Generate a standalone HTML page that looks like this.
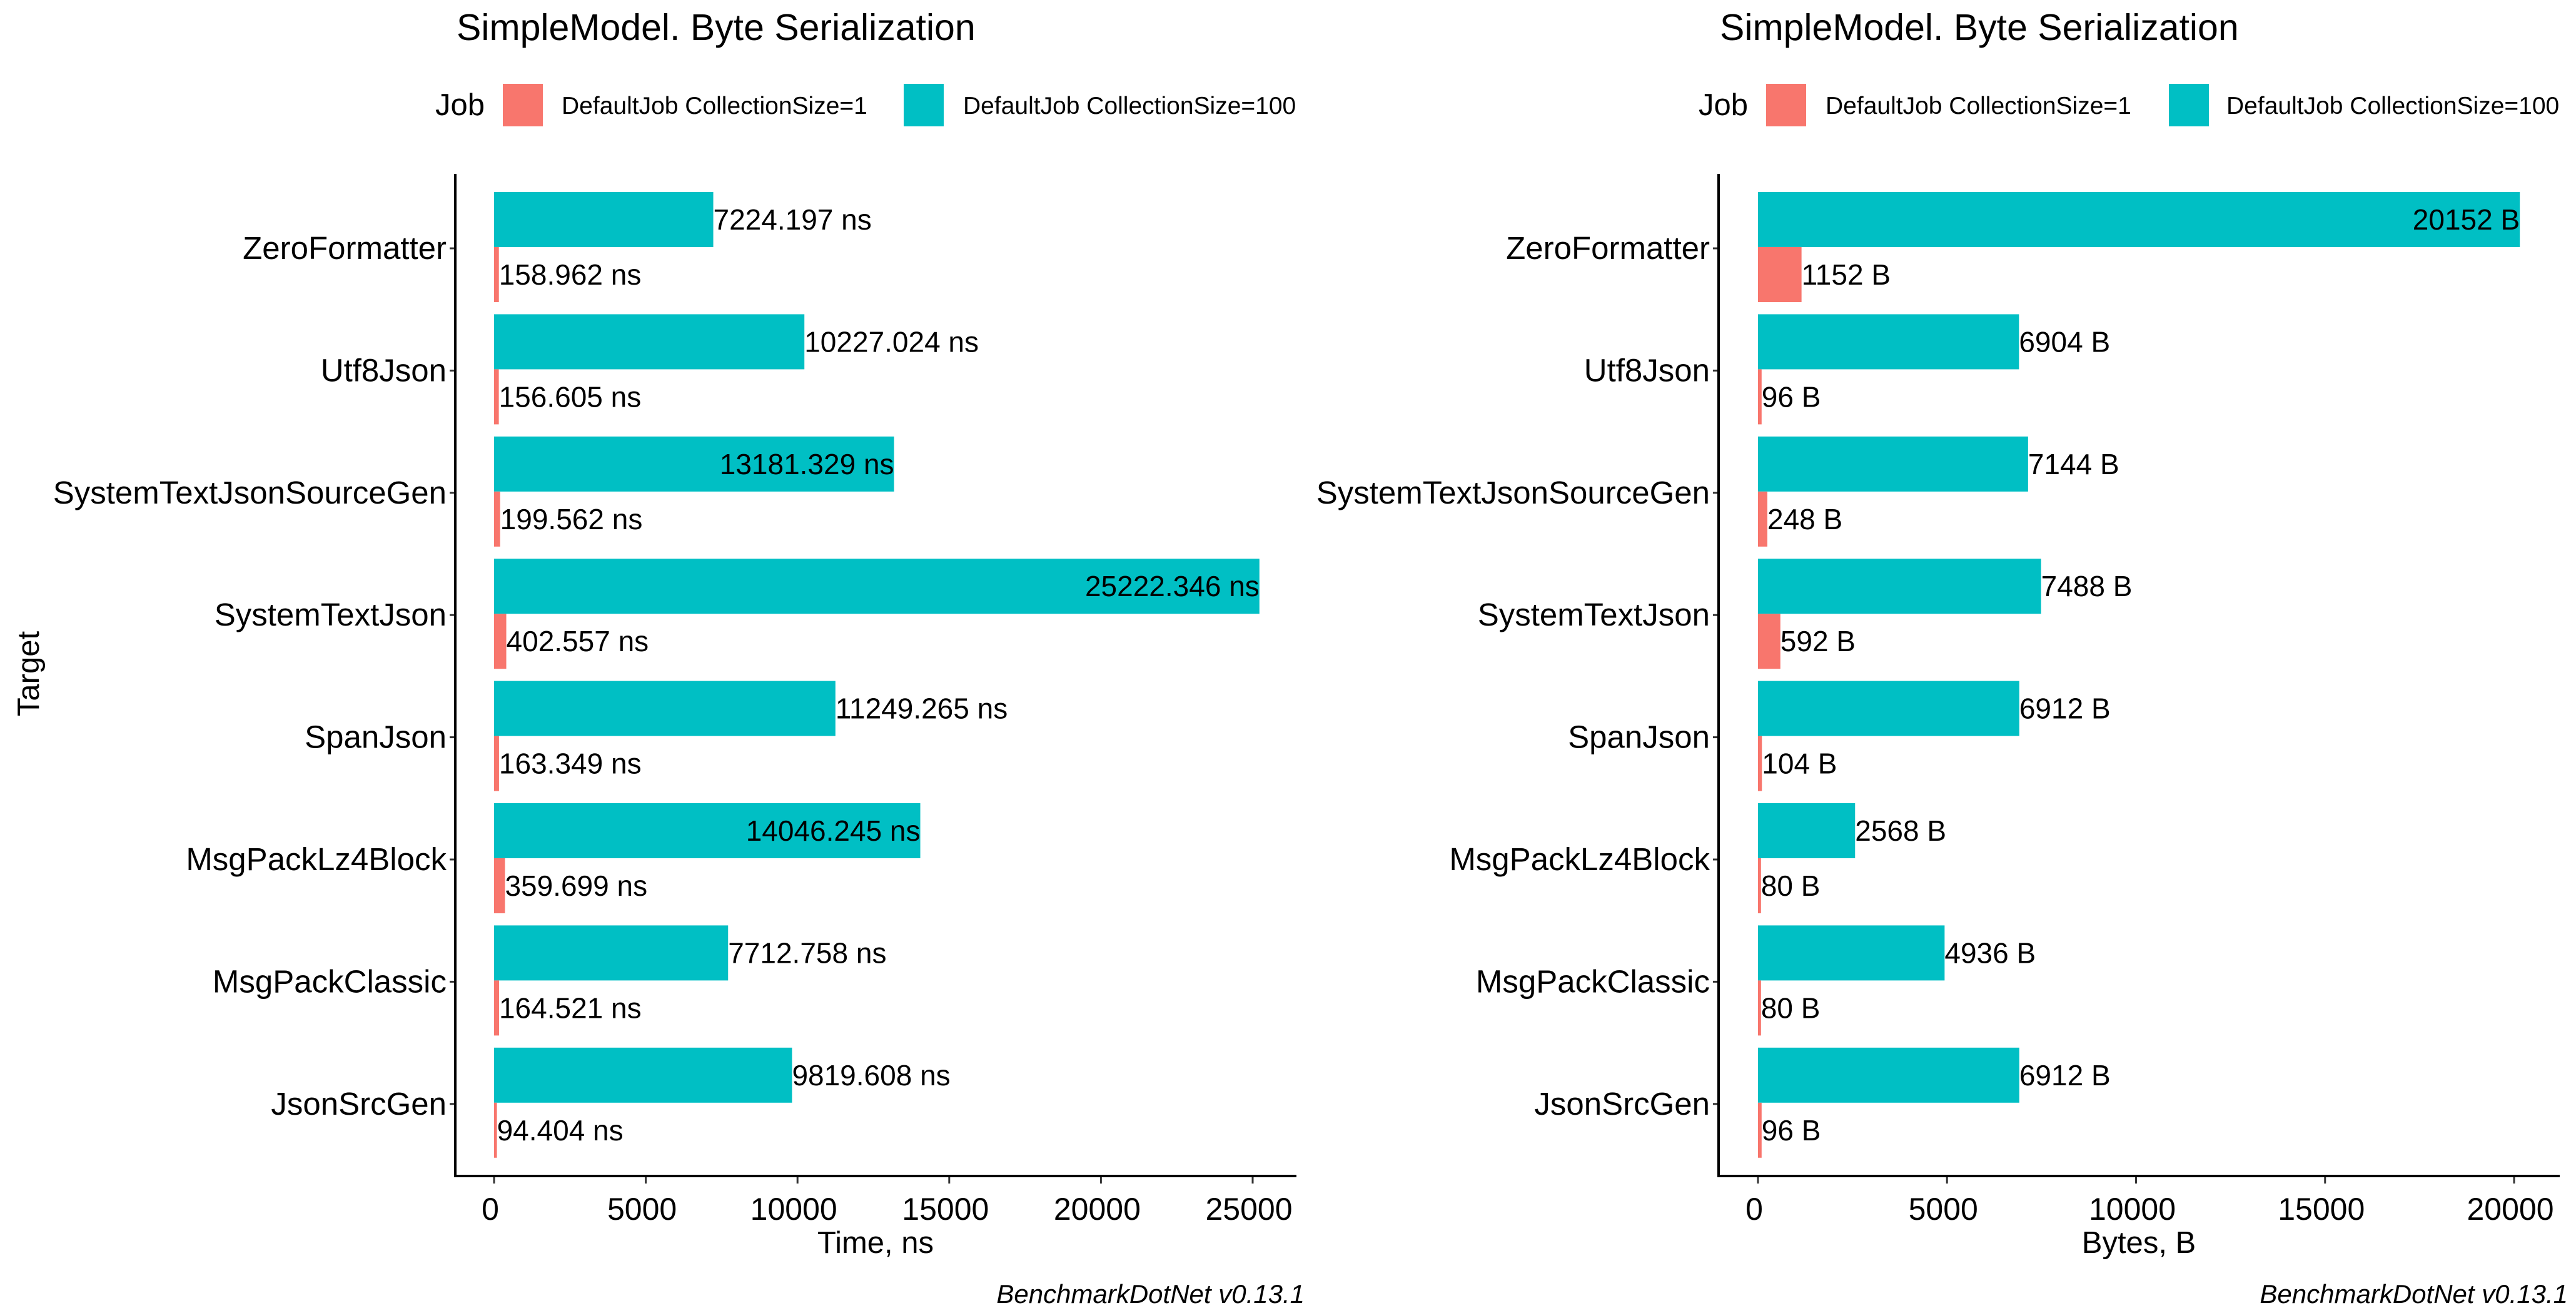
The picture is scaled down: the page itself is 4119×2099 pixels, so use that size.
<!DOCTYPE html>
<html><head><meta charset="utf-8"><style>
html,body{margin:0;padding:0;background:#fff}
svg{display:block}
text{font-family:"Liberation Sans",Arial,sans-serif;fill:#000}
</style></head><body>
<svg id="c" width="4119" height="2099" viewBox="0 0 4119 2099"></svg>
<script>
const categories=["ZeroFormatter","Utf8Json","SystemTextJsonSourceGen","SystemTextJson","SpanJson","MsgPackLz4Block","MsgPackClassic","JsonSrcGen"];
const timeBig=[7224.197,10227.024,13181.329,25222.346,11249.265,14046.245,7712.758,9819.608];
const timeSmall=[158.962,156.605,199.562,402.557,163.349,359.699,164.521,94.404];
const bytesBig=[20152,6904,7144,7488,6912,2568,4936,6912];
const bytesSmall=[1152,96,248,592,104,80,80,96];
const timeTicks=[0,5000,10000,15000,20000,25000];
const bytesTicks=[0,5000,10000,15000,20000];
const NS="http://www.w3.org/2000/svg";
const svg=document.getElementById('c');
function mk(tag,attrs,parent,txt){const e=document.createElementNS(NS,tag);for(const k in attrs)e.setAttribute(k,attrs[k]);if(txt!==undefined)e.textContent=txt;(parent||svg).appendChild(e);return e;}
const top0=397,step=195.4,barH=88;
function yc(i){return top0+i*step;}
function panel(o){
  const g=mk('g',{});
  
  
  const x=v=>o.x0+v*o.k;
  let t=mk('text',{x:o.axisX+2,y:64,'font-size':59},g,'SimpleModel. Byte Serialization');
  
  t=mk('text',{x:o.leg[0],y:184,'font-size':49},g,'Job');
  
  let r=mk('rect',{x:o.leg[1],y:134,width:64,height:68,fill:'#F8766D'},g);
  
  t=mk('text',{x:o.leg[2],y:182,'font-size':39},g,'DefaultJob CollectionSize=1');
  
  r=mk('rect',{x:o.leg[3],y:134,width:64,height:68,fill:'#00BFC4'},g);
  
  t=mk('text',{x:o.leg[4],y:182,'font-size':39},g,'DefaultJob CollectionSize=100');
  
  const maxV=Math.max(...o.big);
  categories.forEach((c,i)=>{
    const y=yc(i);
    let b=mk('rect',{x:x(0),y:y-barH-2,width:x(o.big[i])-x(0),height:barH,fill:'#00BFC4'},g);
    
    b=mk('rect',{x:x(0),y:y-2,width:Math.max(3,x(o.small[i])-x(0)),height:barH,fill:'#F8766D'},g);
    
    const inside=o.big[i]>0.5*maxV;
    let l=mk('text',{x:x(o.big[i]),y:y-46+16,'font-size':46,'text-anchor':inside?'end':'start'},g,o.fmt(o.big[i]));
    
    l=mk('text',{x:Math.max(x(o.small[i]),x(0)+3),y:y+42+16,'font-size':46},g,o.fmt(o.small[i]));
    
    l=mk('text',{x:o.axisX-14,y:y+17,'font-size':51,'text-anchor':'end'},g,c);
    
    mk('line',{x1:o.axisX-9,x2:o.axisX,y1:y,y2:y,stroke:'#333','stroke-width':3},g);
  });
  let a=mk('line',{x1:o.axisX,x2:o.axisX,y1:278,y2:1882,stroke:'#000','stroke-width':4},g);
  
  a=mk('line',{x1:o.axisX-2,x2:o.axisEnd,y1:1880,y2:1880,stroke:'#000','stroke-width':4},g);
  
  o.ticks.forEach(tv=>{
    mk('line',{x1:x(tv),x2:x(tv),y1:1882,y2:1892,stroke:'#333','stroke-width':3},g);
    const tl=mk('text',{x:x(tv)-6,y:1950,'font-size':50,'text-anchor':'middle'},g,String(tv));
    
  });
  t=mk('text',{x:o.titleX,y:2003,'font-size':49,'text-anchor':'middle'},g,o.xTitle);
  
  t=mk('text',{x:o.axisEnd+13,y:2083,'font-size':42,'font-style':'italic','text-anchor':'end'},g,'BenchmarkDotNet v0.13.1');
  
}
panel({name:'time-panel',x0:790,k:(2003-790)/25000,axisX:728,axisEnd:2073,big:timeBig,small:timeSmall,ticks:timeTicks,
  fmt:v=>v.toFixed(3)+' ns',xTitle:'Time, ns',titleX:1400,leg:[696,804,898,1445,1540]});
panel({name:'bytes-panel',x0:2811,k:(4020-2811)/20000,axisX:2748,axisEnd:4093,big:bytesBig,small:bytesSmall,ticks:bytesTicks,
  fmt:v=>v+' B',xTitle:'Bytes, B',titleX:3420,leg:[2716,2824,2919,3468,3560]});
const yt=mk('text',{x:0,y:0,'font-size':49,'text-anchor':'middle',transform:'translate(62,1077) rotate(-90)'},svg,'Target');


</script>
</body></html>
